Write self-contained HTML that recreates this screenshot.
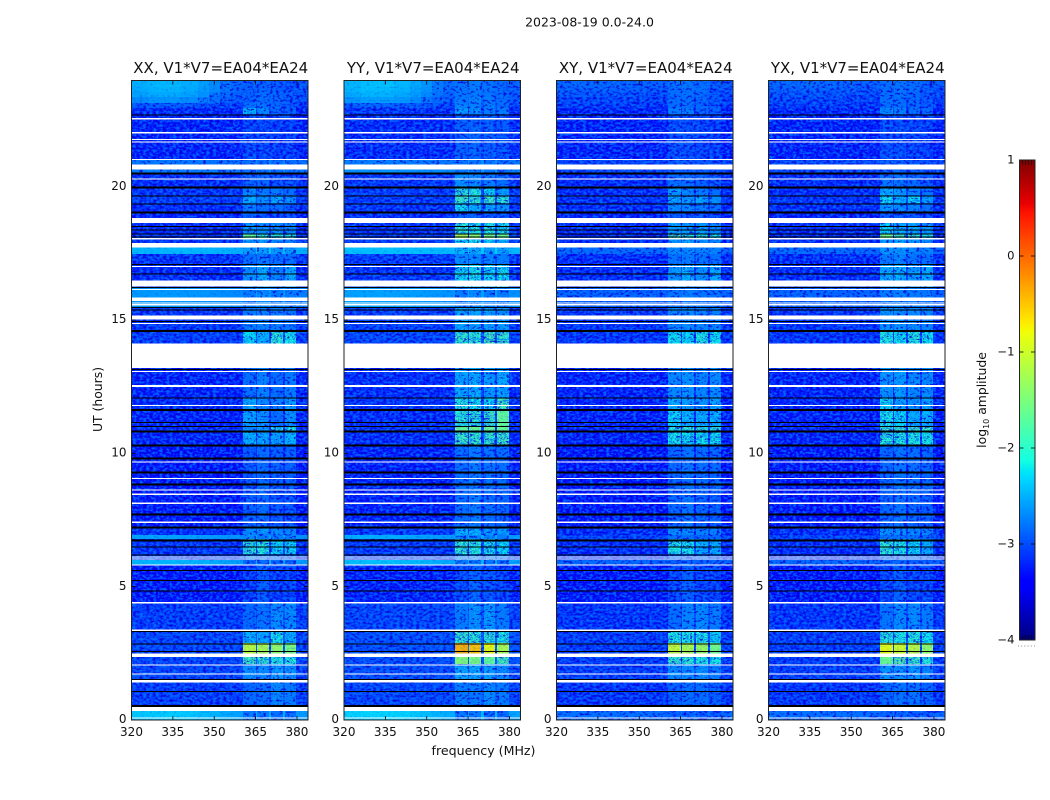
<!DOCTYPE html>
<html lang="en">
<head>
<meta charset="utf-8">
<title>2023-08-19 0.0-24.0</title>
<style>
html,body{margin:0;padding:0;background:#fff;}
svg{display:block;font-family:"DejaVu Sans","Liberation Sans",sans-serif;fill:#000;}
</style>
</head>
<body>
<svg id="figure" xmlns="http://www.w3.org/2000/svg" width="1050" height="800" viewBox="0 0 1050 800">
  <defs>
    <filter id="grain-a" x="0" y="0" width="100%" height="100%" color-interpolation-filters="sRGB">
      <feTurbulence type="fractalNoise" baseFrequency="0.3 0.44" numOctaves="2" seed="3" result="n"/>
      <feColorMatrix in="n" type="matrix" values="0 0 0 0 0  0 0 0 0 0.45  0 0 0 0 1  4.5 0 0 0 -2.15" result="light"/>
      <feColorMatrix in="n" type="matrix" values="0 0 0 0 0  0 0 0 0 0  0 0 0 0 0.85  -4.5 0 0 0 2.15" result="dark"/>
      <feMerge><feMergeNode in="light"/><feMergeNode in="dark"/></feMerge>
    </filter>
    <filter id="grain-b" x="0" y="0" width="100%" height="100%" color-interpolation-filters="sRGB">
      <feTurbulence type="fractalNoise" baseFrequency="0.3 0.44" numOctaves="2" seed="11" result="n"/>
      <feColorMatrix in="n" type="matrix" values="0 0 0 0 0  0 0 0 0 0.45  0 0 0 0 1  4.5 0 0 0 -2.15" result="light"/>
      <feColorMatrix in="n" type="matrix" values="0 0 0 0 0  0 0 0 0 0  0 0 0 0 0.85  -4.5 0 0 0 2.15" result="dark"/>
      <feMerge><feMergeNode in="light"/><feMergeNode in="dark"/></feMerge>
    </filter>
    <linearGradient id="jet-gradient" x1="0" y1="1" x2="0" y2="0"></linearGradient>
  </defs>
  <text x="589.5" y="26.5" font-size="12.5" text-anchor="middle" fill="#111">2023-08-19 0.0-24.0</text>
  <text x="483.5" y="755" font-size="12.6" text-anchor="middle" fill="#111">frequency (MHz)</text>
  <text x="0" y="0" font-size="12.4" text-anchor="middle" fill="#111" transform="translate(102,399.5) rotate(-90)">UT (hours)</text>
  <g id="panels"></g>
  <g id="colorbar"></g>
  <text x="0" y="0" font-size="12.4" text-anchor="middle" fill="#111" transform="translate(986,400) rotate(-90)">log<tspan font-size="8" dy="3">10</tspan><tspan dy="-3"> amplitude</tspan></text>
  <line x1="1018" y1="646" x2="1035" y2="646" stroke="#888" stroke-width="1" stroke-dasharray="1 2.2"/>
</svg>
<script>
// ---- data (hours, MHz, log10 amplitude) ----
const panelTitles = ["XX, V1*V7=EA04*EA24", "YY, V1*V7=EA04*EA24", "XY, V1*V7=EA04*EA24", "YX, V1*V7=EA04*EA24"];
const xTickLabels = [320, 335, 350, 365, 380];
const yTickLabels = [0, 5, 10, 15, 20];
const colorbarTicks = [1, 0, -1, -2, -3, -4];

// Channel groups across the band, MHz
const channelEdges = [320, 326, 332, 338, 344, 348, 352, 356, 360.3, 365, 365.4, 369.7, 370.7, 374.8, 375.5, 379.8, 384];

// Time segments, UT hours
const segmentEdges = [0, 0.34, 1.40, 2.09, 2.36, 2.87, 3.34, 4.37, 5.80, 6.01, 6.21, 6.77, 6.95, 7.25, 8.5, 10.3, 10.85, 11.03, 11.66, 12.09, 13.20, 14.11, 14.62, 15.49, 16.25, 17.10, 17.47, 17.72, 18.02, 18.24, 18.82, 19.07, 19.37, 19.66, 20.00, 20.53, 20.83, 21.03, 22.72, 22.95, 23.15, 23.35, 23.55, 23.75, 23.98];

// Extra low-frequency brightness per segment, parallel-hand and cross-hand
const lowFreqExcess = [0.25, 0, 0, 0, 0, 0, 0, 0, 0.15, 0, 0, 0.1, 0, 0, 0, 0, 0, 0, 0, 0, 0, 0, 0, 0.1, 0, 0, 0.05, 0, 0, 0, 0, 0, 0, 0, 0, 0.05, 0.05, 0, 0.05, 0.2, 0.42, 0.48, 0.48, 0.5];
const crossHandExcess = [0.05, 0, 0, 0, 0, 0, 0, 0, 0.05, 0, 0, 0, 0, 0, 0, 0, 0, 0, 0, 0, 0, 0, 0, 0.03, 0, 0, 0.03, 0, 0, 0, 0, 0, 0, 0, 0, 0, 0, 0, 0.02, 0.05, 0.05, 0.08, 0.1, 0.1];
const channelLowFreqShare = [0.9, 1, 1, 0.9, 0.75, 0.55, 0.35, 0.15, 0, 0, 0, 0, 0, 0, 0, 0];

// Off-signal background level per segment
const baseXX = [-2.6, -3.1, -3.05, -3.05, -3.05, -3.05, -3.1, -3.3, -2.6, -3.1, -3.15, -2.65, -3.15, -3.3, -3.3, -3.25, -3.2, -3.25, -3.2, -3.25, -3.25, -3.1, -3.15, -2.7, -3.2, -3.15, -2.5, -3.15, -3.15, -3.2, -3.25, -3.2, -3.1, -3.15, -3.2, -2.75, -2.8, -3.25, -3.25, -3.15, -3.05, -3.0, -2.95, -2.95];
const baseYY = [-2.55, -3.05, -3.0, -3.0, -3.0, -3.0, -3.05, -3.25, -2.55, -3.1, -3.1, -2.6, -3.1, -3.25, -3.25, -3.2, -3.15, -3.2, -3.15, -3.2, -3.2, -3.05, -3.1, -2.65, -3.15, -3.1, -2.45, -3.1, -3.1, -3.15, -3.2, -3.15, -3.1, -3.1, -3.15, -2.7, -2.75, -3.2, -3.2, -3.1, -3.0, -2.95, -2.9, -2.9];
const baseXY = [-2.85, -3.15, -3.1, -3.1, -3.1, -3.1, -3.15, -3.3, -2.9, -3.2, -3.2, -3.05, -3.2, -3.3, -3.3, -3.25, -3.25, -3.25, -3.25, -3.25, -3.25, -3.15, -3.15, -2.9, -3.2, -3.2, -2.85, -3.2, -3.2, -3.2, -3.25, -3.2, -3.15, -3.2, -3.2, -3.05, -3.05, -3.25, -3.25, -3.15, -3.1, -3.05, -3.0, -2.95];
const baseYX = [-2.85, -3.15, -3.1, -3.1, -3.1, -3.1, -3.15, -3.3, -2.9, -3.2, -3.2, -3.05, -3.2, -3.3, -3.3, -3.25, -3.25, -3.25, -3.25, -3.25, -3.25, -3.15, -3.15, -2.9, -3.2, -3.2, -2.85, -3.2, -3.2, -3.2, -3.25, -3.2, -3.15, -3.2, -3.2, -3.05, -3.05, -3.25, -3.25, -3.15, -3.1, -3.05, -3.0, -2.95];

// Signal level per segment in the four sub-bands
const bandsXX = [[-2.6,-2.6,-2.7,-2.7],[-2.75,-2.7,-2.5,-2.6],[-2.5,-2.5,-2.4,-2.45],[-1.85,-1.9,-2.0,-2.0],[-1.1,-1.2,-1.35,-1.5],[-2.3,-2.35,-2.1,-2.3],[-2.75,-2.65,-2.5,-2.5],[-3.0,-2.8,-3.0,-2.95],[-2.75,-2.7,-2.7,-2.75],[-2.6,-2.6,-2.7,-2.7],[-1.95,-2.0,-2.2,-2.2],[-2.5,-2.6,-2.6,-2.6],[-2.5,-2.4,-2.5,-2.5],[-2.8,-2.7,-2.85,-2.85],[-2.85,-2.7,-2.8,-2.8],[-2.3,-2.35,-2.35,-2.25],[-2.5,-2.4,-2.05,-2.05],[-2.35,-2.45,-2.7,-2.45],[-2.3,-2.5,-2.55,-2.4],[-2.7,-2.55,-2.7,-2.6],[-2.7,-2.55,-2.7,-2.6],[-2.2,-2.25,-1.95,-2.1],[-2.6,-2.55,-2.6,-2.65],[-2.6,-2.5,-2.6,-2.6],[-2.45,-2.3,-2.55,-2.35],[-2.7,-2.6,-2.7,-2.7],[-2.35,-2.35,-2.4,-2.4],[-2.4,-2.4,-2.5,-2.5],[-1.65,-1.9,-1.95,-2.0],[-2.4,-2.45,-2.45,-2.5],[-2.8,-2.9,-2.9,-2.9],[-2.6,-2.7,-2.7,-2.8],[-2.35,-2.45,-2.3,-2.45],[-2.5,-2.6,-2.6,-2.7],[-2.8,-2.75,-2.9,-2.85],[-2.7,-2.7,-2.7,-2.7],[-2.7,-2.7,-2.7,-2.7],[-2.95,-2.95,-3.0,-3.0],[-2.3,-2.5,-2.75,-2.8],[-2.7,-2.65,-2.75,-2.85],[-2.8,-2.7,-2.75,-2.85],[-2.8,-2.7,-2.75,-2.85],[-2.8,-2.8,-2.85,-2.9],[-2.8,-2.8,-2.85,-2.9]];
const bandsYY = [[-2.6,-2.6,-2.7,-2.7],[-2.6,-2.6,-2.5,-2.6],[-2.35,-2.35,-2.4,-2.5],[-1.45,-1.5,-1.65,-1.8],[-0.4,-0.5,-0.8,-1.2],[-1.9,-1.95,-1.95,-2.05],[-2.6,-2.45,-2.4,-2.6],[-2.9,-2.75,-2.85,-2.95],[-2.6,-2.6,-2.65,-2.7],[-2.5,-2.5,-2.55,-2.6],[-1.9,-2.0,-2.1,-2.2],[-2.5,-2.5,-2.55,-2.6],[-2.3,-2.3,-2.4,-2.4],[-2.7,-2.6,-2.7,-2.75],[-2.7,-2.6,-2.65,-2.7],[-1.85,-1.9,-1.9,-1.85],[-1.65,-1.6,-1.6,-1.6],[-1.95,-1.95,-1.85,-1.65],[-2.0,-2.1,-2.2,-1.8],[-2.35,-2.3,-2.4,-2.35],[-2.35,-2.3,-2.4,-2.35],[-1.9,-1.95,-1.8,-1.9],[-2.35,-2.35,-2.4,-2.4],[-2.6,-2.5,-2.6,-2.6],[-2.2,-2.1,-2.2,-2.15],[-2.5,-2.5,-2.55,-2.6],[-2.3,-2.3,-2.35,-2.35],[-2.2,-2.1,-2.2,-2.3],[-1.2,-1.4,-1.5,-1.6],[-1.95,-2.05,-2.05,-2.1],[-2.8,-2.8,-2.85,-2.85],[-2.15,-2.25,-2.3,-2.4],[-1.85,-1.95,-1.85,-1.95],[-1.95,-2.0,-2.2,-2.4],[-2.45,-2.5,-2.6,-2.7],[-2.65,-2.65,-2.65,-2.7],[-2.65,-2.65,-2.65,-2.7],[-2.8,-2.75,-2.8,-2.85],[-2.4,-2.45,-2.6,-2.6],[-2.55,-2.55,-2.6,-2.7],[-2.6,-2.55,-2.6,-2.7],[-2.65,-2.6,-2.65,-2.7],[-2.65,-2.6,-2.65,-2.75],[-2.65,-2.6,-2.65,-2.75]];
const bandsXY = [[-2.8,-2.8,-2.85,-2.85],[-2.8,-2.7,-2.7,-2.8],[-2.5,-2.5,-2.5,-2.6],[-1.9,-1.95,-2.05,-2.1],[-1.05,-1.2,-1.3,-1.55],[-2.05,-2.05,-2.05,-2.2],[-2.7,-2.55,-2.5,-2.6],[-2.95,-2.8,-2.95,-2.95],[-2.8,-2.75,-2.8,-2.8],[-2.7,-2.7,-2.75,-2.75],[-2.05,-2.1,-2.25,-2.3],[-2.7,-2.7,-2.75,-2.75],[-2.5,-2.5,-2.55,-2.55],[-2.75,-2.65,-2.75,-2.8],[-2.75,-2.65,-2.7,-2.75],[-2.1,-2.15,-2.15,-2.15],[-2.0,-1.95,-1.95,-1.95],[-2.2,-2.25,-2.3,-2.25],[-2.3,-2.4,-2.45,-2.35],[-2.5,-2.45,-2.55,-2.5],[-2.5,-2.45,-2.55,-2.5],[-2.15,-2.2,-2.05,-2.15],[-2.5,-2.5,-2.55,-2.55],[-2.65,-2.6,-2.65,-2.65],[-2.4,-2.3,-2.45,-2.35],[-2.65,-2.6,-2.65,-2.7],[-2.5,-2.5,-2.55,-2.55],[-2.4,-2.35,-2.45,-2.5],[-1.8,-2.0,-2.0,-2.1],[-2.35,-2.4,-2.4,-2.5],[-2.85,-2.9,-2.9,-2.9],[-2.5,-2.55,-2.6,-2.7],[-2.3,-2.4,-2.3,-2.45],[-2.4,-2.5,-2.6,-2.7],[-2.7,-2.7,-2.8,-2.85],[-2.85,-2.85,-2.85,-2.9],[-2.85,-2.85,-2.85,-2.9],[-2.9,-2.9,-2.95,-3.0],[-2.6,-2.6,-2.75,-2.8],[-2.7,-2.7,-2.75,-2.85],[-2.7,-2.7,-2.75,-2.85],[-2.7,-2.65,-2.75,-2.85],[-2.7,-2.65,-2.7,-2.85],[-2.7,-2.65,-2.7,-2.85]];
const bandsYX = [[-2.8,-2.8,-2.85,-2.85],[-2.75,-2.65,-2.65,-2.75],[-2.45,-2.45,-2.45,-2.55],[-1.6,-1.7,-1.85,-2.0],[-0.85,-1.0,-1.1,-1.35],[-2.0,-2.05,-2.0,-2.15],[-2.65,-2.5,-2.5,-2.6],[-2.95,-2.8,-2.95,-2.95],[-2.8,-2.75,-2.8,-2.8],[-2.65,-2.65,-2.7,-2.75],[-1.95,-2.05,-2.2,-2.3],[-2.65,-2.65,-2.7,-2.75],[-2.45,-2.45,-2.5,-2.55],[-2.75,-2.65,-2.75,-2.8],[-2.75,-2.65,-2.7,-2.75],[-2.0,-2.05,-2.05,-2.1],[-1.85,-1.85,-1.85,-1.9],[-2.1,-2.2,-2.3,-2.25],[-2.2,-2.35,-2.45,-2.35],[-2.45,-2.4,-2.5,-2.5],[-2.45,-2.4,-2.5,-2.5],[-2.05,-2.15,-2.0,-2.15],[-2.45,-2.45,-2.5,-2.55],[-2.6,-2.55,-2.6,-2.65],[-2.3,-2.25,-2.4,-2.3],[-2.6,-2.55,-2.65,-2.7],[-2.45,-2.45,-2.5,-2.55],[-2.3,-2.3,-2.4,-2.45],[-1.55,-1.8,-1.9,-2.05],[-2.2,-2.3,-2.35,-2.45],[-2.85,-2.85,-2.9,-2.9],[-2.4,-2.5,-2.55,-2.7],[-2.15,-2.3,-2.2,-2.4],[-2.3,-2.4,-2.55,-2.65],[-2.65,-2.65,-2.75,-2.85],[-2.8,-2.8,-2.85,-2.9],[-2.8,-2.8,-2.85,-2.9],[-2.9,-2.9,-2.95,-3.0],[-2.5,-2.55,-2.7,-2.75],[-2.7,-2.7,-2.75,-2.85],[-2.7,-2.7,-2.75,-2.85],[-2.7,-2.65,-2.75,-2.85],[-2.7,-2.65,-2.7,-2.85],[-2.7,-2.65,-2.7,-2.85]];

// Flagged (white) intervals, UT hours
const flaggedIntervals = [[0.07,0.10],[0.34,0.50],[1.40,1.50],[1.71,1.75],[2.04,2.09],[2.36,2.50],[3.34,3.39],[4.37,4.42],[5.80,5.84],[6.01,6.05],[6.09,6.13],[7.39,7.44],[8.10,8.15],[8.44,8.49],[8.61,8.65],[9.03,9.07],[9.65,9.69],[10.26,10.31],[11.77,11.81],[12.49,12.56],[13.05,13.09],[13.20,14.11],[14.85,14.89],[15.02,15.17],[15.55,15.59],[15.62,15.66],[15.72,15.84],[16.12,16.16],[16.25,16.48],[16.99,17.02],[17.72,17.88],[18.02,18.07],[18.64,18.82],[20.27,20.31],[20.64,20.83],[20.99,21.03],[21.65,21.70],[21.74,21.78],[21.99,22.05],[22.52,22.57]];

// Zero-amplitude (black) records, UT hours
const blankHours = [1.08,1.54,2.58,2.87,3.34,4.86,5.25,5.62,6.21,6.50,11.18,11.03,12.09,13.17,14.96,15.39,15.49,16.24,16.74,17.10,18.13,18.24,18.39,18.52,19.37,19.66,22.70];
const thickBlankHours = [0.56,6.77,7.25,7.75,8.87,9.31,9.84,10.33,10.85,11.66,14.62,19.07,20.00,20.53];

// ---- geometry ----
const SVGNS = "http://www.w3.org/2000/svg";
const panelLefts = [131.5, 344, 556.5, 768.5];
const panelWidth = 176.5;
const plotTop = 80.5;
const plotBottom = 720;
const xMin = 320, xMax = 384, yMin = 0, yMax = 23.98;
const barLeft = 1019.5, barRight = 1035, barTop = 160, barBottom = 640, barMin = -4, barMax = 1;
const quietBandShift = -0.12;
const brightLevel = -1.7;
const smoothBackgroundLevel = -2.7;

const xScale = (left, mhz) => left + (mhz - xMin) / (xMax - xMin) * panelWidth;
const yScale = hour => plotBottom - (hour - yMin) / (yMax - yMin) * (plotBottom - plotTop);
const barScale = v => barBottom - (v - barMin) / (barMax - barMin) * (barBottom - barTop);

function interp(knots, t) {
  for (let i = 1; i < knots.length; i++) {
    if (t <= knots[i][0]) {
      const a = knots[i - 1], b = knots[i];
      return a[1] + (b[1] - a[1]) * (t - a[0]) / (b[0] - a[0]);
    }
  }
  return knots[knots.length - 1][1];
}
const jetR = [[0,0],[0.35,0],[0.66,1],[0.89,1],[1,0.5]];
const jetG = [[0,0],[0.125,0],[0.375,1],[0.64,1],[0.91,0],[1,0]];
const jetB = [[0,0.5],[0.11,1],[0.34,1],[0.65,0],[1,0]];
function jet(t) {
  t = Math.max(0, Math.min(1, t));
  const c = [jetR, jetG, jetB].map(k => Math.round(255 * interp(k, t)));
  return "rgb(" + c.join(",") + ")";
}
const colorFor = v => jet((v - barMin) / (barMax - barMin));

function make(tag, attrs, parent) {
  const el = document.createElementNS(SVGNS, tag);
  for (const k in attrs) el.setAttribute(k, attrs[k]);
  parent.appendChild(el);
  return el;
}

const panelBases = [baseXX, baseYY, baseXY, baseYX];
const panelBands = [bandsXX, bandsYY, bandsXY, bandsYX];
const panelNames = ["xx", "yy", "xy", "yx"];
const panelExcess = [lowFreqExcess, lowFreqExcess, crossHandExcess, crossHandExcess];
const grainIds = ["grain-a", "grain-b", "grain-b", "grain-a"];
const bandColumns = [8, 10, 12, 14];
const gapColumns = [9, 11, 13];

const root = document.getElementById("panels");

function cellValue(p, seg, col) {
  const base = panelBases[p][seg] + panelExcess[p][seg] * channelLowFreqShare[col];
  const b = bandColumns.indexOf(col);
  if (b >= 0) {
    const v = panelBands[p][seg][b];
    return v < -2.2 ? v + quietBandShift : v;
  }
  if (gapColumns.indexOf(col) >= 0) return base + 0.1;
  return base;
}

function isSmooth(col, v) {
  if (v > brightLevel) return true;
  return bandColumns.indexOf(col) < 0 && v > smoothBackgroundLevel;
}

panelTitles.forEach((title, p) => {
  const left = panelLefts[p];
  const right = left + panelWidth;
  const g = make("g", {}, root);
  
  

  const heat = make("g", {"shape-rendering": "crispEdges"}, g);
  
  

  // speckle texture sits above quiet cells, below bright ones
  const noise = make("rect", {x: left, y: plotTop, width: panelWidth, height: plotBottom - plotTop, fill: "#000", filter: "url(#" + grainIds[p] + ")", opacity: 0.8}, g);
  
  

  const brightHeat = make("g", {"shape-rendering": "crispEdges"}, g);
  
  

  for (let s = 0; s < segmentEdges.length - 1; s++) {
    for (let c = 0; c < channelEdges.length - 1; c++) {
      const x0 = Math.round(xScale(left, channelEdges[c]));
      const x1 = Math.round(xScale(left, channelEdges[c + 1]));
      const y0 = Math.round(yScale(segmentEdges[s + 1]));
      const y1 = Math.round(yScale(segmentEdges[s]));
      const v = cellValue(p, s, c);
      const cell = make("rect", {x: x0, y: y0, width: x1 - x0, height: y1 - y0, fill: colorFor(v)}, isSmooth(c, v) ? brightHeat : heat);
      
      
    }
  }

  // fainter speckle over the smooth cells
  const softNoise = make("rect", {x: left, y: plotTop, width: panelWidth, height: plotBottom - plotTop, fill: "#000", filter: "url(#" + grainIds[p] + ")", opacity: 0.2}, g);
  
  

  // flagged intervals
  const strips = make("g", {"shape-rendering": "crispEdges"}, g);
  
  
  flaggedIntervals.forEach(iv => {
    const r = make("rect", {x: left, y: yScale(iv[1]), width: panelWidth, height: Math.max(1, yScale(iv[0]) - yScale(iv[1])), fill: "#fff"}, strips);
    
    
  });
  blankHours.forEach(h => {
    const r = make("rect", {x: left, y: yScale(h), width: panelWidth, height: 1, fill: "#000"}, strips);
    
    
  });
  thickBlankHours.forEach(h => {
    const r = make("rect", {x: left, y: yScale(h), width: panelWidth, height: 2, fill: "#000"}, strips);
    
    
  });

  // ticks + labels
  xTickLabels.forEach(v => {
    const x = xScale(left, v);
    const t1 = make("line", {x1: x, x2: x, y1: plotBottom, y2: plotBottom - 4, stroke: "#000", "stroke-width": 0.8}, g);
    
    
    const t2 = make("line", {x1: x, x2: x, y1: plotTop, y2: plotTop + 4, stroke: "#000", "stroke-width": 0.8}, g);
    
    
    const lab = make("text", {x: x, y: 736, "font-size": 12, "text-anchor": "middle", fill: "#111"}, g);
    
    
    lab.textContent = v;
  });
  yTickLabels.forEach(v => {
    const y = yScale(v);
    const t1 = make("line", {x1: left, x2: left + 4, y1: y, y2: y, stroke: "#000", "stroke-width": 0.8}, g);
    
    
    const t2 = make("line", {x1: right, x2: right - 4, y1: y, y2: y, stroke: "#000", "stroke-width": 0.8}, g);
    
    
    const lab = make("text", {x: left - 5, y: y + 3.2, "font-size": 12, "text-anchor": "end", fill: "#111"}, g);
    
    
    lab.textContent = v;
  });

  const frame = make("rect", {x: left, y: plotTop, width: panelWidth, height: plotBottom - plotTop, fill: "none", stroke: "#222", "stroke-width": 1}, g);
  
  

  const tt = make("text", {x: left + panelWidth / 2 + 1, y: 73, "font-size": 15, "text-anchor": "middle", fill: "#111"}, g);
  
  
  tt.textContent = title;
});

// colorbar
const grad = document.getElementById("jet-gradient");
[0, 0.11, 0.125, 0.34, 0.35, 0.375, 0.5, 0.64, 0.65, 0.66, 0.89, 0.91, 1].forEach(t => {
  make("stop", {offset: t, "stop-color": jet(t)}, grad);
});
const cb = document.getElementById("colorbar");
const cbFill = make("rect", {x: barLeft, y: barTop, width: barRight - barLeft, height: barBottom - barTop, fill: "url(#jet-gradient)"}, cb);


colorbarTicks.forEach(v => {
  const y = barScale(v);
  const a = make("line", {x1: barLeft, x2: barLeft + 4, y1: y, y2: y, stroke: "#000", "stroke-width": 0.8}, cb);
  
  
  const b = make("line", {x1: barRight, x2: barRight - 4, y1: y, y2: y, stroke: "#000", "stroke-width": 0.8}, cb);
  
  
  const lab = make("text", {x: barLeft - 5, y: y + 3.5, "font-size": 11.6, "text-anchor": "end", fill: "#111"}, cb);
  
  
  lab.textContent = String(v).replace("-", "\u2212");
});
[3, 6, 9, 12].forEach(dx => {
  [[barTop, barTop + 5], [barBottom, barBottom - 5]].forEach(ys => {
    const m = make("line", {x1: barLeft + dx, x2: barLeft + dx, y1: ys[0], y2: ys[1], stroke: "#000", "stroke-width": 0.6}, cb);
    
    
  });
});
const cbFrame = make("rect", {x: barLeft, y: barTop, width: barRight - barLeft, height: barBottom - barTop, fill: "none", stroke: "#222", "stroke-width": 1}, cb);


</script>
</body>
</html>
